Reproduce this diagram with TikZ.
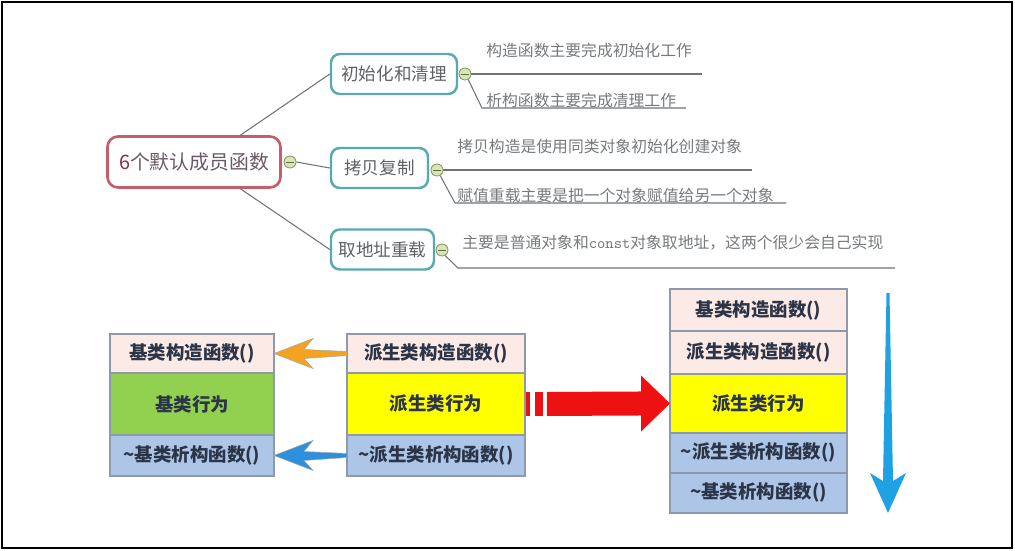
\documentclass[tikz,border=0pt]{standalone}
\usepackage{fontspec}
\newfontfamily\cjk{Noto Sans CJK SC}
\usetikzlibrary{positioning,calc}

\definecolor{rootline}{HTML}{C25F6B}
\definecolor{rootsix}{HTML}{8C2F3F}
\definecolor{roottext}{HTML}{6B5A66}
\definecolor{teal}{HTML}{58A9B2}
\definecolor{mindtext}{HTML}{5E6266}
\definecolor{linkclr}{HTML}{6E7378}
\definecolor{foldfill}{HTML}{D8E6B4}
\definecolor{foldline}{HTML}{8A9A6A}
\definecolor{rowline}{HTML}{8E99AB}
\definecolor{rowtext}{HTML}{2B3547}
\definecolor{ctorfill}{HTML}{FBEAE6}
\definecolor{basefill}{HTML}{92D050}
\definecolor{derivfill}{HTML}{FFFF00}
\definecolor{dtorfill}{HTML}{ADC6E8}
\definecolor{orangearr}{HTML}{F4A321}
\definecolor{bluearr}{HTML}{2E8FDC}
\definecolor{redarr}{HTML}{EE1111}
\definecolor{downarr}{HTML}{1FA2E3}

\begin{document}
\begin{tikzpicture}[
    x=0.02cm, y=-0.02cm,
    font=\cjk,
    node distance=0pt,
    rootbox/.style ={draw=rootline, line width=1.5pt, rounded corners=6pt,
                     minimum width=3.46cm, minimum height=1.02cm,
                     text=roottext, font=\cjk\fontsize{11.3}{13}\selectfont},
    topic/.style   ={draw=teal, line width=1.4pt, rounded corners=5pt,
                     minimum height=0.8cm, text=mindtext,
                     font=\cjk\fontsize{10}{12}\selectfont},
    leaf/.style    ={anchor=west, inner sep=0pt, text=mindtext!85,
                     font=\cjk\fontsize{9}{11}\selectfont},
    fold/.style    ={circle, draw=foldline, fill=foldfill, line width=0.5pt,
                     minimum size=0.24cm, inner sep=0pt,
                     path picture={\draw[foldline!70!black, line width=0.5pt]
                        ([xshift=-2.2pt]path picture bounding box.center) --
                        ([xshift=2.2pt]path picture bounding box.center);}},
    link/.style    ={draw=linkclr, line width=0.6pt},
    row/.style     ={draw=rowline, line width=1.1pt, outer sep=0pt, inner sep=0pt,
                     text=rowtext, font=\cjk\bfseries\fontsize{10.5}{12}\selectfont},
    ctor/.style    ={row, fill=ctorfill},
    behav/.style   ={row, fill=basefill},
    dbehav/.style  ={row, fill=derivfill},
    dtor/.style    ={row, fill=dtorfill},
]
\useasboundingbox (0,0) rectangle (1015,551);
\draw[line width=0.8pt] (2,2) rectangle (1012,548);

% =========================================================
% Mind map: six default member functions
% =========================================================
\node[rootbox] (root) at (194,162) {\textcolor{rootsix}{6}个默认成员函数};
\node[fold] (c0) at (290,162) {};

\node[topic, minimum width=2.52cm] (b1) at (394,74)    {初始化和清理};
\node[topic, minimum width=1.94cm] (b2) at (379.5,168) {拷贝复制};
\node[topic, minimum width=2.06cm] (b3) at (382.5,249.5) {取地址重载};

\draw[link] (root.30)  -- (b1.west);
\draw[link] (c0.east)  -- (b2.west);
\draw[link] (root.-30) -- (b3.west);

\node[fold] (c1) at (465,74)  {};
\node[fold] (c2) at (437,170) {};
\node[fold] (c3) at (442,250) {};

% leaves
\node[leaf] (l1) at (486,50)  {构造函数主要完成初始化工作};
\node[leaf] (l2) at (486,100) {析构函数主要完成清理工作};
\node[leaf] (l3) at (457,146) {拷贝构造是使用同类对象初始化创建对象};
\node[leaf] (l4) at (457,195) {赋值重载主要是把一个对象赋值给另一个对象};
\node[leaf] (l5) at (462,243) {主要是普通对象和\texttt{const}对象取地址，这两个很少会自己实现};

\coordinate (l1u) at (702,74);
\coordinate (k12) at (482,108);  \coordinate (l2u) at (686,108);
\coordinate (l3u) at (752,170);
\coordinate (k22) at (455,203);  \coordinate (l4u) at (786,203);
\coordinate (k3)  at (458,268);  \coordinate (l5u) at (895,268);

\draw[link] (c1.east) -- (l1u);
\draw[link] (c1.-60)  -- (k12) -- (l2u);
\draw[link] (c2.east) -- (l3u);
\draw[link] (c2.-60)  -- (k22) -- (l4u);
\draw[link] (c3.-60)  -- (k3)  -- (l5u);

% =========================================================
% Base class object
% =========================================================
\node[ctor,  minimum width=3.28cm, minimum height=0.78cm] (lr1) at (192,353.5) {基类构造函数()};
\node[behav, minimum width=3.28cm, minimum height=1.24cm, below=of lr1] (lr2) {基类行为};
\node[dtor,  minimum width=3.28cm, minimum height=0.82cm, below=of lr2] (lr3) {\textasciitilde 基类析构函数()};

% =========================================================
% Derived class object
% =========================================================
\node[ctor,   minimum width=3.56cm, minimum height=0.78cm] (mr1) at (436,353.5) {派生类构造函数()};
\node[dbehav, minimum width=3.56cm, minimum height=1.24cm, below=of mr1] (mr2) {派生类行为};
\node[dtor,   minimum width=3.56cm, minimum height=0.82cm, below=of mr2] (mr3) {\textasciitilde 派生类析构函数()};

% =========================================================
% Full call order
% =========================================================
\node[ctor,   minimum width=3.54cm, minimum height=0.84cm] (rr1) at (758.5,310) {基类构造函数()};
\node[ctor,   minimum width=3.54cm, minimum height=0.86cm, below=of rr1] (rr2) {派生类构造函数()};
\node[dbehav, minimum width=3.54cm, minimum height=1.18cm, below=of rr2] (rr3) {派生类行为};
\node[dtor,   minimum width=3.54cm, minimum height=0.80cm, below=of rr3] (rr4) {\textasciitilde 派生类析构函数()};
\node[dtor,   minimum width=3.54cm, minimum height=0.80cm, below=of rr4] (rr5) {\textasciitilde 基类析构函数()};

% arrows between the stacks
\filldraw[fill=orangearr, draw=gray!70, line width=0.3pt]
    (lr1.east) -- ++(39,-15) -- ++(-9,11) -- ($(mr1.west)+(0,-2)$)
    -- ($(mr1.west)+(0,2)$) -- ($(lr1.east)+(30,5)$) -- ($(lr1.east)+(39,15)$) -- cycle;
\filldraw[fill=bluearr, draw=gray!70, line width=0.3pt]
    (lr3.east) -- ++(39,-15) -- ++(-9,11) -- ($(mr3.west)+(0,-2)$)
    -- ($(mr3.west)+(0,2)$) -- ($(lr3.east)+(30,5)$) -- ($(lr3.east)+(39,15)$) -- cycle;

\fill[redarr] ($(mr2.east)+(1,-12)$) rectangle ++(4,24);
\fill[redarr] ($(mr2.east)+(10,-12)$) rectangle ++(8,24);
\fill[redarr] ($(mr2.east)+(22,-12)$) -- ($(rr3.west)+(-29,-12)$) -- ($(rr3.west)+(-29,-28)$)
    -- (rr3.west) -- ($(rr3.west)+(-29,28)$) -- ($(rr3.west)+(-29,12)$)
    -- ($(mr2.east)+(22,12)$) -- cycle;

% order of execution
\coordinate (dtop) at (888,293);
\coordinate (dbot) at (888,513);
\fill[downarr] ($(dtop)+(-1.5,0)$) -- ($(dtop)+(1.5,0)$) -- ($(dbot)+(5,-32)$)
    -- ($(dbot)+(18,-40)$) -- (dbot) -- ($(dbot)+(-18,-40)$) -- ($(dbot)+(-5,-32)$) -- cycle;

\end{tikzpicture}
\end{document}
